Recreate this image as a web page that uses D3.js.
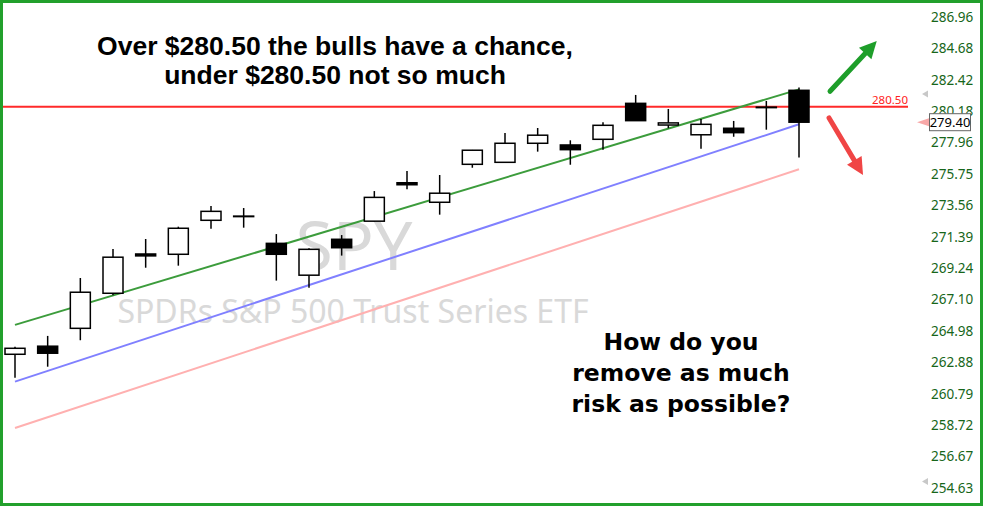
<!DOCTYPE html>
<html><head><meta charset="utf-8">
<script src="https://cdn.jsdelivr.net/npm/d3@7"></script>
<style>html,body{margin:0;padding:0;background:#fff;}svg{display:block;}</style>
</head><body>
<svg id="c" width="983" height="506"></svg>
<script>
// ---- data ----
const opens  = [263.42,263.96,265.16,267.53,270.21,270.19,272.53,272.82,270.94,268.76,271.22,272.47,275.14,273.78,276.43,276.57,277.91,277.79,278.19,280.74,279.20,278.51,278.97,280.47,281.67];
const highs  = [263.93,264.65,268.57,270.55,271.24,272.09,273.52,273.38,271.58,270.60,271.51,274.56,275.96,275.68,277.44,278.64,278.99,278.12,279.40,281.34,280.34,279.63,279.49,280.91,281.88];
const lows   = [261.86,262.59,264.36,267.39,269.27,269.41,271.95,272.02,268.39,267.91,270.10,272.45,274.68,272.92,276.19,276.55,277.32,276.40,277.46,279.51,278.97,277.53,278.37,278.87,276.90];
const closes = [263.82,263.49,267.60,269.99,270.08,271.98,273.15,272.80,270.19,270.53,270.64,274.12,275.00,274.41,277.42,277.91,278.48,277.46,279.18,279.51,279.35,279.25,278.66,280.45,279.40];
const tickValues = [286.96,284.68,282.42,280.18,277.96,275.75,273.56,271.39,269.24,267.10,264.98,262.88,260.79,258.72,256.67,254.63];
const levelPrice = 280.50;
const lastPrice = 279.40;
// trend lines: [startIndex, startPrice, endIndex, endPrice]
const greenTrend = [0, 265.39, 24, 281.74];
const blueTrend  = [0, 261.60, 24, 279.25];
const pinkTrend  = [0, 258.54, 24, 276.08];
// annotation arrows in data space: [fromIndex, fromPrice, toIndex, toPrice]
const upArrow   = [24.95, 281.60, 26.38, 285.22];
const downArrow = [24.92, 279.70, 25.96, 275.68];
const markerPrices = [281.40, 255.05];
const titleLines = ["Over $280.50 the bulls have a chance,", "under $280.50 not so much"];
const questionLines = ["How do you", "remove as much", "risk as possible?"];
const symbol = "SPY";
const symbolName = "SPDRs S&P 500 Trust Series ETF";

// ---- scales ----
const svg = d3.select("#c");
const x = d3.scaleLinear().domain([0, opens.length - 1]).range([15, 799]);
const y = d3.scaleLog().domain([254.63, 286.96]).range([488, 17]);

// watermark
svg.append("text").attr("x", 354).attr("y", 270).attr("text-anchor", "middle")
  .attr("font-family", "Noto Sans").attr("font-size", 68).attr("fill", "#d9d9d9").text(symbol);
svg.append("text").attr("x", 353).attr("y", 323).attr("text-anchor", "middle")
  .attr("font-family", "Noto Sans").attr("font-size", 32).attr("fill", "#d9d9d9").text(symbolName);

// level line
svg.append("line").attr("x1", 3).attr("x2", 908).attr("y1", y(levelPrice)).attr("y2", y(levelPrice))
  .attr("stroke", "#ff2a2a").attr("stroke-width", 2);
svg.append("text").attr("x", 908).attr("y", y(levelPrice) - 3).attr("text-anchor", "end")
  .attr("font-family", "Noto Sans").attr("font-size", 11.5).attr("fill", "#ff2020").text(levelPrice.toFixed(2));

// trend lines
[[pinkTrend, "#ffb0b0"], [blueTrend, "#8080ff"], [greenTrend, "#3c9c3c"]].forEach(([t, col]) => {
  svg.append("line").attr("x1", x(t[0])).attr("y1", y(t[1])).attr("x2", x(t[2])).attr("y2", y(t[3]))
    .attr("stroke", col).attr("stroke-width", 2);
});

// candles
const data = opens.map((o, i) => ({i, o, h: highs[i], l: lows[i], c: closes[i]}));
const bw = 20;
const g = svg.append("g");
g.selectAll("line.wick").data(data).join("line").attr("class", "wick")
  .attr("x1", d => x(d.i)).attr("x2", d => x(d.i))
  .attr("y1", d => y(d.h)).attr("y2", d => y(d.l))
  .attr("stroke", "#000").attr("stroke-width", 1.5);
g.selectAll("rect.body").data(data).join("rect").attr("class", "body")
  .attr("x", d => x(d.i) - bw / 2).attr("width", bw)
  .attr("y", d => y(Math.max(d.o, d.c)))
  .attr("height", d => Math.max(0.5, Math.abs(y(d.o) - y(d.c))))
  .attr("fill", d => d.c > d.o ? "#fff" : "#000")
  .attr("stroke", "#000").attr("stroke-width", 1.5);

// arrows
function arrow(a, col) {
  const x1 = x(a[0]), y1 = y(a[1]), x2 = x(a[2]), y2 = y(a[3]);
  const dx = x2 - x1, dy = y2 - y1, len = Math.hypot(dx, dy);
  const ux = dx / len, uy = dy / len, hl = 17, hw = 8.5;
  const bx = x2 - ux * hl, by = y2 - uy * hl;
  svg.append("line").attr("x1", x1).attr("y1", y1).attr("x2", bx + ux * 2).attr("y2", by + uy * 2)
    .attr("stroke", col).attr("stroke-width", 5).attr("stroke-linecap", "round");
  svg.append("path").attr("d", `M${x2},${y2}L${bx - uy * hw},${by + ux * hw}L${bx + uy * hw},${by - ux * hw}Z`)
    .attr("fill", col);
}
arrow(upArrow, "#1e9e2a");
arrow(downArrow, "#f04545");

// axis
const axis = d3.axisRight(y).tickValues(tickValues).tickSize(0).tickPadding(0).tickFormat(d3.format(".2f"));
const ag = svg.append("g").attr("transform", "translate(931,0)").call(axis);
ag.select(".domain").remove();
ag.selectAll("text").attr("font-family", "Noto Sans").attr("font-size", 13.5).attr("fill", "#17661a");

// marker triangles
markerPrices.forEach(p => {
  const yy = y(p);
  svg.append("path").attr("d", `M922,${yy}L928,${yy - 3.5}L928,${yy + 3.5}Z`).attr("fill", "#c8c8c8");
});

// last price box (covers the neighbouring tick label as in the original platform)
const ly = y(lastPrice);
svg.append("path").attr("d", `M917,${ly}L929,${ly - 4}L929,${ly + 4}Z`).attr("fill", "#f8a8a8");
svg.append("rect").attr("x", 929.5).attr("y", ly - 8.5).attr("width", 41).attr("height", 17)
  .attr("fill", "#fff").attr("stroke", "#666").attr("stroke-width", 1);
svg.append("text").attr("x", 950).attr("y", ly + 4.5).attr("text-anchor", "middle")
  .attr("font-family", "Noto Sans").attr("font-size", 13).attr("fill", "#000").text(lastPrice.toFixed(2));

// title
svg.append("text").attr("x", 335).attr("y", 55).attr("text-anchor", "middle")
  .attr("font-family", "Liberation Sans").attr("font-weight", "bold").attr("font-size", 26.5).attr("fill", "#000")
  .selectAll("tspan").data(titleLines).join("tspan").attr("x", 335).attr("dy", (d, i) => i ? 28.5 : 0).text(d => d);

// question
svg.append("text").attr("x", 681).attr("y", 350).attr("text-anchor", "middle")
  .attr("font-family", "DejaVu Sans").attr("font-weight", "bold").attr("font-size", 23.5).attr("fill", "#000")
  .selectAll("tspan").data(questionLines).join("tspan").attr("x", 681).attr("dy", (d, i) => i ? 31 : 0).text(d => d);

// border
svg.append("rect").attr("x", 1.5).attr("y", 1.5).attr("width", 980).attr("height", 503)
  .attr("fill", "none").attr("stroke", "#22a02c").attr("stroke-width", 3);
</script>
</body></html>
